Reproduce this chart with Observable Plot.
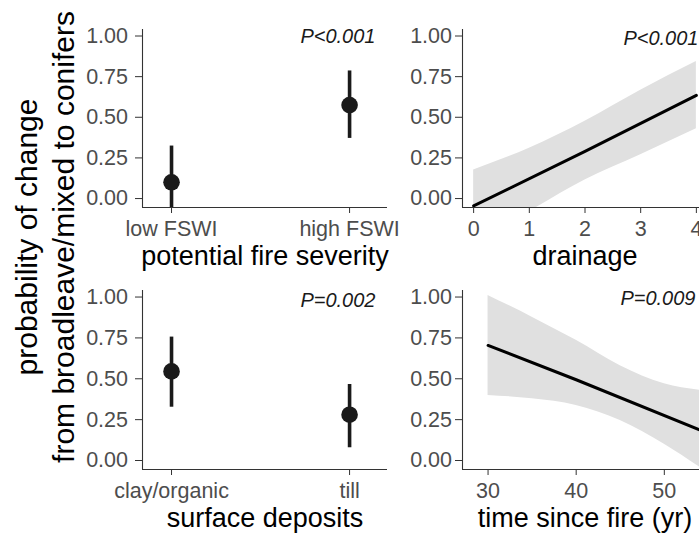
<!DOCTYPE html>
<html><head><meta charset="utf-8">
<script src="https://cdn.jsdelivr.net/npm/d3@7"></script>
<script src="https://cdn.jsdelivr.net/npm/@observablehq/plot@0.6"></script>
<style>
html,body{margin:0;padding:0;background:#fff;overflow:hidden}
#fig{position:relative;width:699px;height:534px;overflow:hidden;background:#fff;font-family:"Liberation Sans",Arial,sans-serif}
#fig .panel{position:absolute}
</style></head><body><div id="fig"></div>
<script>
// ---- data ----
const yTicks = [0, 0.25, 0.5, 0.75, 1];
const yTitle = ["probability of change", "from broadleave/mixed to conifers"];

const fireCats = ["low FSWI", "high FSWI"];
const fireEst = [0.10, 0.575];
const fireLo = [-0.12, 0.37];
const fireHi = [0.323, 0.785];

const soilCats = ["clay/organic", "till"];
const soilEst = [0.545, 0.28];
const soilLo = [0.326, 0.078];
const soilHi = [0.755, 0.465];

const drainLineX = [0, 2, 4];
const drainLineY = [-0.045, 0.29, 0.635];
const drainBandX = [0, 1, 2, 3, 4];
const drainBandLo = [-0.27, -0.08, 0.114, 0.27, 0.43];
const drainBandHi = [0.176, 0.31, 0.476, 0.667, 0.843];
const drainTicks = [0, 1, 2, 3, 4];

const tsfLineX = [30, 40, 54];
const tsfLineY = [0.704, 0.494, 0.188];
const tsfBandX = [30, 35, 40, 45, 50, 54];
const tsfBandLo = [0.398, 0.378, 0.337, 0.245, 0.10, -0.04];
const tsfBandHi = [1.01, 0.877, 0.735, 0.58, 0.47, 0.43];
const tsfTicks = [30, 40, 50];

const pLabels = ["P<0.001", "P<0.001", "P=0.002", "P=0.009"];
const xTitles = ["potential fire severity", "drainage", "surface deposits", "time since fire (yr)"];

// ---- drawing ----
const FONT = '"Liberation Sans", Arial, sans-serif';
const yDomain = [-0.055, 1.04];
const fig = document.getElementById("fig");
const INK = "#1a1a1a";

function catMarks(cats, est, lo, hi) {
  const rows = cats.map((c, i) => ({pos: i + 1, est: est[i], lo: lo[i], hi: hi[i]}));
  return [
    Plot.ruleX(rows, {x: "pos", y1: "lo", y2: "hi", stroke: INK, strokeWidth: 3.6, clip: true}),
    Plot.dot(rows, {x: "pos", y: "est", r: 8.3, fill: INK, stroke: "none"})
  ];
}
function fitMarks(bx, blo, bhi, lx, ly) {
  const band = bx.map((x, i) => ({x, lo: blo[i], hi: bhi[i]}));
  const line = lx.map((x, i) => ({x, y: ly[i]}));
  return [
    Plot.areaY(band, {x: "x", y1: "lo", y2: "hi", fill: "#e0e0e0", curve: "monotone-x", clip: true}),
    Plot.line(line, {x: "x", y: "y", stroke: "#000", strokeWidth: 3, clip: true})
  ];
}

function panel(o) {
  const svg = Plot.plot({
    width: o.width, height: o.height,
    marginLeft: o.ml, marginRight: o.mr, marginTop: o.mt, marginBottom: o.mb,
    style: {fontFamily: FONT, background: "transparent", overflow: "visible"},
    x: {type: "linear", domain: o.xDomain},
    y: {type: "linear", domain: yDomain},
    marks: [
      ...o.marks,
      Plot.ruleX([o.xDomain[0]], {stroke: "#333", strokeWidth: 1.1}),
      Plot.ruleY([yDomain[0]], {stroke: "#333", strokeWidth: 1.1}),
      Plot.axisY({ticks: yTicks, tickFormat: d3.format(".2f"), tickSize: 7, tickPadding: o.yPad,
        stroke: "#333", fill: "#4d4d4d", fontSize: 21.5, label: null}),
      Plot.axisX({ticks: o.xTicks, tickFormat: o.xFormat, tickSize: 6, tickPadding: 7,
        stroke: "#333", fill: "#4d4d4d", fontSize: 21.5, label: null}),
      Plot.text([o.title], {text: d => d, frameAnchor: "bottom", lineAnchor: "middle", dy: o.titleDy,
        fontSize: 27, fill: "#000"}),
      Plot.text([o.p], {text: d => d, frameAnchor: "top-right", lineAnchor: "middle", textAnchor: "end",
        dx: o.pdx, dy: o.pdy, fontSize: 20, fontStyle: "italic", fill: INK})
    ]
  });
  svg.classList.add("panel");
  svg.style.left = o.left + "px";
  svg.style.top = o.top + "px";
  fig.appendChild(svg);
}

// top-left: potential fire severity
panel({left: 0, top: 0, width: 400, height: 267, ml: 142, mr: 13, mt: 29, mb: 60,
  xDomain: [0.837, 2.213], xTicks: [1, 2], xFormat: d => fireCats[d - 1],
  marks: catMarks(fireCats, fireEst, fireLo, fireHi), yPad: 7.5,
  title: xTitles[0], titleDy: 48.5, p: pLabels[0], pdx: -12, pdy: 7.5});
// top-right: drainage
panel({left: 400, top: 0, width: 307, height: 267, ml: 62, mr: 0, mt: 29, mb: 60,
  xDomain: [-0.2, 4.2], xTicks: drainTicks, xFormat: d3.format("d"),
  marks: fitMarks(drainBandX, drainBandLo, drainBandHi, drainLineX, drainLineY), yPad: 3.5,
  title: xTitles[1], titleDy: 48.5, p: pLabels[1], pdx: -9, pdy: 9});
// bottom-left: surface deposits
panel({left: 0, top: 267, width: 400, height: 267, ml: 142, mr: 13, mt: 23, mb: 65,
  xDomain: [0.837, 2.213], xTicks: [1, 2], xFormat: d => soilCats[d - 1],
  marks: catMarks(soilCats, soilEst, soilLo, soilHi), yPad: 7.5,
  title: xTitles[2], titleDy: 48.5, p: pLabels[2], pdx: -12, pdy: 10});
// bottom-right: time since fire
panel({left: 400, top: 267, width: 307, height: 267, ml: 62, mr: 0, mt: 23, mb: 65,
  xDomain: [27.1, 54.9], xTicks: tsfTicks, xFormat: d3.format("d"),
  marks: fitMarks(tsfBandX, tsfBandLo, tsfBandHi, tsfLineX, tsfLineY), yPad: 3.5,
  title: xTitles[3], titleDy: 48.5, p: pLabels[3], pdx: -12, pdy: 8.5});

// shared y-axis title
const ns = "http://www.w3.org/2000/svg";
const ys = document.createElementNS(ns, "svg");
ys.setAttribute("width", 100); ys.setAttribute("height", 534);
ys.classList.add("panel"); ys.style.left = "0px"; ys.style.top = "0px";
[37, 74].forEach((bx, i) => {
  const t = document.createElementNS(ns, "text");
  t.setAttribute("transform", `translate(${bx},237) rotate(-90)`);
  t.setAttribute("text-anchor", "middle");
  t.setAttribute("font-size", 30);
  t.setAttribute("font-family", FONT);
  t.setAttribute("fill", "#000");
  t.textContent = yTitle[i];
  ys.appendChild(t);
});
fig.appendChild(ys);
</script></body></html>
